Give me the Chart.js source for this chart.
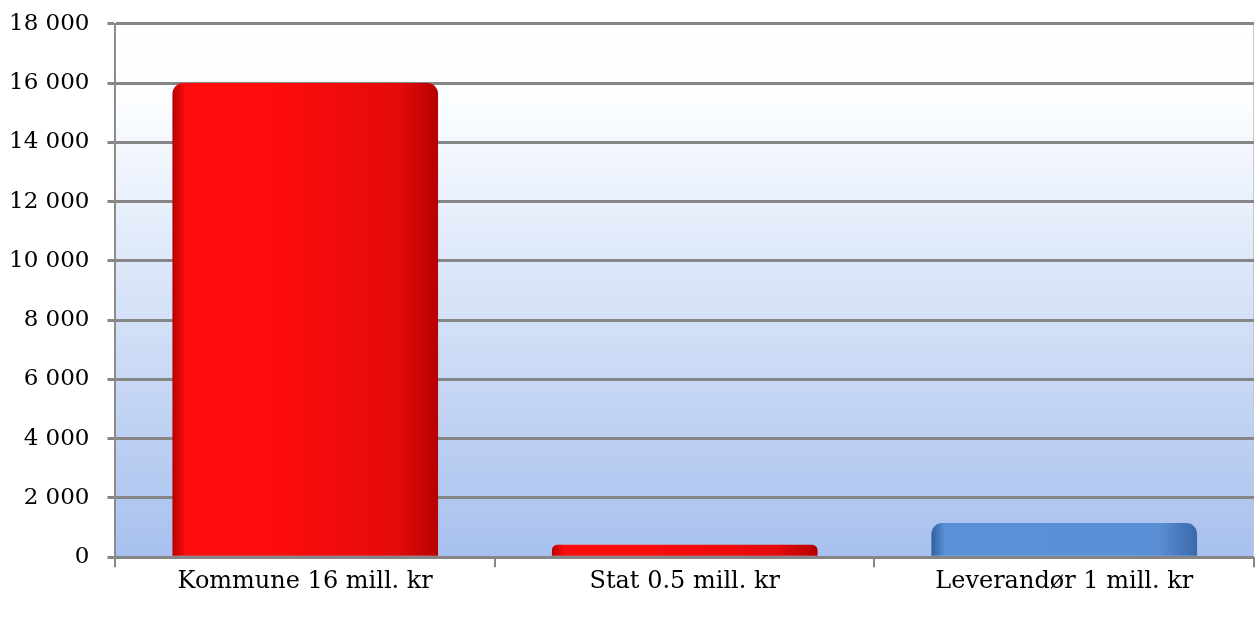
<!DOCTYPE html>
<html>
<head>
<meta charset="utf-8">
<script src="https://cdn.jsdelivr.net/npm/chart.js@4/dist/chart.umd.min.js"></script>
<style>
  html, body { margin:0; padding:0; background:#fff; }
  #wrap { width:1255px; height:617px; }
</style>
</head>
<body>
<div id="wrap"><canvas id="c"></canvas></div>
<script>
const categories = ['Kommune 16 mill. kr', 'Stat 0.5 mill. kr', 'Leverandør 1 mill. kr'];
const values = [16000, 420, 1150];
const barColors = [['#b80000','#ff0c0c','#e40b0b','#b60000'], ['#b80000','#ff0c0c','#e40b0b','#b60000'], ['#2f5f9e','#5a90d8','#5b8fd5','#3a6aab']];
const yTicks = { min: 0, max: 18000, step: 2000 };

function fmt(v){ return String(v).replace(/\B(?=(\d{3})+(?!\d))/g, ' '); }

function barFill(ctx){
  const chart = ctx.chart;
  const c = barColors[ctx.dataIndex];
  const xs = chart.scales.x;
  if (!xs || !chart.chartArea) return c[1];
  const catW = (xs.right - xs.left) / categories.length;
  const w = catW * 0.7;
  const cx = xs.getPixelForValue(ctx.dataIndex);
  const g = chart.ctx.createLinearGradient(cx - w/2, 0, cx + w/2, 0);
  g.addColorStop(0, c[0]);
  g.addColorStop(0.05, c[1]);
  g.addColorStop(0.35, c[1]);
  g.addColorStop(0.85, c[2]);
  g.addColorStop(1, c[3]);
  return g;
}

const plotBg = {
  id: 'plotBg',
  beforeDraw(chart){
    const {ctx, chartArea:a} = chart;
    const g = ctx.createLinearGradient(0, a.top, 0, a.bottom);
    g.addColorStop(0, '#ffffff');
    g.addColorStop(0.15, '#fbfdff');
    g.addColorStop(1, '#a7c0ee');
    ctx.save();
    ctx.fillStyle = g;
    ctx.fillRect(a.left, a.top, a.right - a.left, a.bottom - a.top);
    ctx.strokeStyle = '#c8c8c8';
    ctx.lineWidth = 1;
    ctx.beginPath();
    ctx.moveTo(a.right - 0.5, a.top);
    ctx.lineTo(a.right - 0.5, a.bottom);
    ctx.stroke();
    ctx.restore();
  }
};

new Chart(document.getElementById('c'), {
  type: 'bar',
  data: {
    labels: categories,
    datasets: [{
      data: values,
      backgroundColor: barFill,
      borderRadius: 11,
      borderSkipped: 'start',
      categoryPercentage: 1,
      barPercentage: 0.7
    }]
  },
  options: {
    responsive: true,
    maintainAspectRatio: false,
    animation: false,
    layout: { padding: { left: 0, top: 1, right: 1, bottom: 21 } },
    plugins: { legend: { display: false }, tooltip: { enabled: false } },
    scales: {
      x: {
        grid: { display: true, drawOnChartArea: false, drawTicks: true, tickLength: 10, offset: true, color: '#868686', lineWidth: 2 },
        border: { display: false },
        ticks: { color: '#000', padding: 0, font: { family: 'DejaVu Serif', size: 24 } }
      },
      y: {
        min: yTicks.min, max: yTicks.max,
        afterFit: s => { s.width -= 9; },
        grid: { color: '#868686', lineWidth: 3, tickLength: 8, drawTicks: true },
        border: { display: true, color: '#8c8c8c', width: 2 },
        ticks: { stepSize: yTicks.step, color: '#000', padding: 18, callback: v => fmt(v), font: { family: 'DejaVu Serif', size: 23, lineHeight: 0.5 } }
      }
    }
  },
  plugins: [plotBg]
});
</script>
</body>
</html>
